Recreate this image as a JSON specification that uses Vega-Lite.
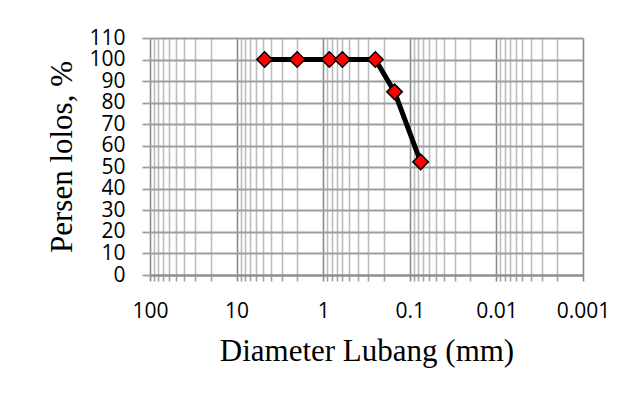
{
  "$schema": "https://vega.github.io/schema/vega-lite/v6.json",
  "width": 433,
  "height": 237,
  "autosize": {"type": "none"},
  "padding": {"left": 150, "top": 38, "right": 53, "bottom": 124},
  "background": "white",
  "data": {
    "values": [
      {"diameter": 4.75, "persen": 100},
      {"diameter": 2, "persen": 100},
      {"diameter": 0.85, "persen": 100},
      {"diameter": 0.6, "persen": 100},
      {"diameter": 0.25, "persen": 100},
      {"diameter": 0.15, "persen": 85},
      {"diameter": 0.075, "persen": 52.5}
    ]
  },
  "encoding": {
    "x": {
      "field": "diameter",
      "type": "quantitative",
      "scale": {"type": "log", "domain": [0.001, 100], "reverse": true, "nice": false},
      "axis": {
        "title": "Diameter Lubang (mm)",
        "values": [0.001, 0.002, 0.003, 0.004, 0.005, 0.006, 0.007, 0.008, 0.009,
                   0.01, 0.02, 0.03, 0.04, 0.05, 0.06, 0.07, 0.08, 0.09,
                   0.1, 0.2, 0.3, 0.4, 0.5, 0.6, 0.7, 0.8, 0.9,
                   1, 2, 3, 4, 5, 6, 7, 8, 9,
                   10, 20, 30, 40, 50, 60, 70, 80, 90, 100],
        "labelExpr": "indexof([100, 10, 1, 0.1, 0.01, 0.001], datum.value) >= 0 ? format(datum.value, '~g') : ''",
        "labelOverlap": false,
        "labelFlush": false,
        "labelBound": false,
        "grid": true,
        "gridColor": {"condition": {"test": "indexof([100, 10, 1, 0.1, 0.01, 0.001], datum.value) >= 0", "value": "#8a8a8a"}, "value": "#bdbdbd"},
        "gridWidth": 1.6,
        "tickColor": {"condition": {"test": "indexof([100, 10, 1, 0.1, 0.01, 0.001], datum.value) >= 0", "value": "#8a8a8a"}, "value": "#a0a0a0"},
        "tickWidth": 1.6,
        "tickSize": 6,
        "labelPadding": 19,
        "titlePadding": 15,
        "domain": true,
        "domainColor": "#8c8c8c",
        "domainWidth": 1.8
      }
    },
    "y": {
      "field": "persen",
      "type": "quantitative",
      "scale": {"domain": [0, 110], "nice": false, "zero": true},
      "axis": {
        "title": "Persen lolos, %",
        "values": [0, 10, 20, 30, 40, 50, 60, 70, 80, 90, 100, 110],
        "labelOverlap": false,
        "labelBound": false,
        "labelFlush": false,
        "grid": true,
        "gridColor": "#9e9e9e",
        "gridWidth": 1.8,
        "tickColor": "#9e9e9e",
        "tickWidth": 1.8,
        "tickSize": 8,
        "labelPadding": 17,
        "titlePadding": 10,
        "domain": false
      }
    }
  },
  "layer": [
    {
      "mark": {"type": "line", "color": "black", "strokeWidth": 5}
    },
    {
      "mark": {"type": "point", "shape": "diamond", "filled": true, "fill": "#ff0000", "stroke": "black", "strokeWidth": 1.5, "size": 240, "opacity": 1}
    }
  ],
  "config": {
    "view": {"stroke": null},
    "axis": {
      "labelFont": "Open Sans",
      "labelFontSize": 21,
      "labelColor": "black",
      "titleFont": "Liberation Serif",
      "titleFontSize": 31,
      "titleFontWeight": "normal",
      "titleColor": "black"
    }
  }
}
